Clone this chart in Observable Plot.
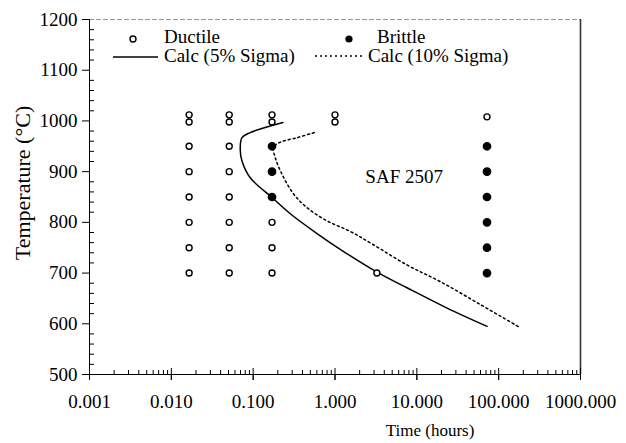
<!DOCTYPE html>
<html><head><meta charset="utf-8">
<script src="https://cdn.jsdelivr.net/npm/d3@7"></script>
<script src="https://cdn.jsdelivr.net/npm/@observablehq/plot@0.6"></script>
<style>
html,body{margin:0;padding:0;background:#fff;}
#chart{position:relative;width:626px;height:443px;}
#chart svg{display:block;}
</style></head><body><div id="chart"></div>
<script>
// ---- data (time in hours, temperature in °C) ----
const ductileTime = [0.0165,0.0165,0.0165,0.0165,0.0165,0.0165,0.0165,0.0165,
                     0.051,0.051,0.051,0.051,0.051,0.051,0.051,0.051,
                     0.17,0.17,0.17,0.17,0.17,
                     1.0,1.0,
                     3.25,
                     72];
const ductileTemp = [700,750,800,850,900,950,998,1012,
                     700,750,800,850,900,950,998,1012,
                     700,750,800,998,1012,
                     998,1012,
                     700,
                     1008];
const brittleTime = [0.17,0.17,0.17,72,72,72,72,72,72];
const brittleTemp = [850,900,950,700,750,800,850,900,950];

const calc5Time = [0.231,0.092,0.073,0.0696,0.073,0.092,0.170,0.284,0.603,1.26,3.26,7.59,23.4,72.1];
const calc5Temp = [997,977,967,941,921,888,849,817,778,743,702,671,631,595];

const calc10Time = [0.558,0.343,0.214,0.177,0.186,0.225,0.312,0.455,0.798,1.54,2.8,7.59,19.4,59.7,184];
const calc10Temp = [977,967,958,948,928,895,856,829,803,782,758,716,683,638,592];

const xTicks = [0.001,0.01,0.1,1,10,100,1000];
const xTickLabels = ["0.001","0.010","0.100","1.000","10.000","100.000","1000.000"];
const yTicks = [500,600,700,800,900,1000,1100,1200];
const seriesNames = ["Ductile","Brittle","Calc (5% Sigma)","Calc (10% Sigma)"];
const annotation = [{t:2.35, T:890, label:"SAF 2507"}];
const xTitle = "Time (hours)";
const yTitle = "Temperature (°C)";

// ---- derived tables ----
const zip = (a,b) => a.map((t,i)=>({t, T:b[i]}));
const ductile = zip(ductileTime, ductileTemp);
const brittle = zip(brittleTime, brittleTemp);
const calc5 = zip(calc5Time, calc5Temp);
const calc10 = zip(calc10Time, calc10Temp);
const xMinor = xTicks.slice(0,-1).flatMap(d => [2,3,4,5,6,7,8,9].map(k => k*d));
const yMinor = d3.range(yTicks[0], yTicks[yTicks.length-1], 20).filter(d => d % 100 !== 0);

const font = '"Liberation Serif","Times New Roman",serif';
const blank = () => "";

const plot = Plot.plot({
  width: 626, height: 443,
  marginLeft: 89, marginRight: 46, marginTop: 19, marginBottom: 69,
  style: {fontFamily: font, fontSize: "19px", color: "#000", background: "#fff", overflow: "visible"},
  x: {type: "log", domain: [xTicks[0], xTicks[xTicks.length-1]]},
  y: {domain: [yTicks[0], yTicks[yTicks.length-1]]},
  marks: [
    Plot.ruleY([yTicks[yTicks.length-1]], {stroke: "#999", strokeDasharray: "5,2"}),
    Plot.ruleX([xTicks[xTicks.length-1]], {stroke: "#333", strokeWidth: 1.6}),
    Plot.ruleX([xTicks[0]], {stroke: "#000"}),
    Plot.ruleY([yTicks[0]], {stroke: "#000"}),
    Plot.axisY({ticks: yTicks, tickSize: 7, tickPadding: 5, tickFormat: d => String(d), label: null, fontSize: 19}),
    Plot.axisY({ticks: yMinor, tickSize: 5, dx: 5, tickFormat: blank, label: null}),
    Plot.axisX({ticks: xTicks, tickSize: 6, tickPadding: 14, tickFormat: d => xTickLabels[xTicks.indexOf(d)], label: null, fontSize: 19}),
    Plot.axisX({ticks: xTicks, tickSize: 12, dy: -6, tickFormat: blank, label: null}),
    Plot.axisX({ticks: xMinor, tickSize: 4, dy: -4, tickFormat: blank, label: null}),
    Plot.line(calc5, {x: "t", y: "T", stroke: "#000", strokeWidth: 1.5, curve: "catmull-rom"}),
    Plot.line(calc10, {x: "t", y: "T", stroke: "#000", strokeWidth: 1.5, strokeDasharray: "2,3", curve: "catmull-rom"}),
    Plot.dot(ductile, {x: "t", y: "T", r: 3, stroke: "#000", strokeWidth: 1.4, fill: "#fff"}),
    Plot.dot(brittle, {x: "t", y: "T", r: 3.6, stroke: "#000", fill: "#000"}),
    Plot.text(annotation, {x: "t", y: "T", text: "label", textAnchor: "start", fontSize: 19}),
    Plot.text([xTitle], {frameAnchor: "bottom", text: d => d, dx: 95, dy: 61, fontSize: 17}),
    Plot.text([yTitle], {frameAnchor: "left", text: d => d, textAnchor: "middle", dx: -67, dy: -14, rotate: -90, fontSize: 22})
  ]
});

// ---- legend ----
const svg = d3.select(plot);
const lg = svg.append("g").attr("font-family", font).attr("font-size", 19).attr("fill", "#000").attr("text-anchor", "start");
lg.append("circle").attr("cx", 133).attr("cy", 39).attr("r", 3).attr("fill", "#fff").attr("stroke", "#000").attr("stroke-width", 1.4);
lg.append("text").attr("x", 164).attr("y", 36.5).attr("dy", "0.32em").text(seriesNames[0]);
lg.append("circle").attr("cx", 349).attr("cy", 39).attr("r", 3.6).attr("fill", "#000");
lg.append("text").attr("x", 377).attr("y", 36.5).attr("dy", "0.32em").text(seriesNames[1]);
lg.append("line").attr("x1", 113).attr("x2", 158).attr("y1", 57).attr("y2", 57).attr("stroke", "#000").attr("stroke-width", 1.5);
lg.append("text").attr("x", 164).attr("y", 55.5).attr("dy", "0.32em").text(seriesNames[2]);
lg.append("line").attr("x1", 315).attr("x2", 365).attr("y1", 56).attr("y2", 56).attr("stroke", "#000").attr("stroke-width", 1.5).attr("stroke-dasharray", "2,3");
lg.append("text").attr("x", 368).attr("y", 55.5).attr("dy", "0.32em").text(seriesNames[3]);

document.getElementById("chart").appendChild(plot);
</script></body></html>
